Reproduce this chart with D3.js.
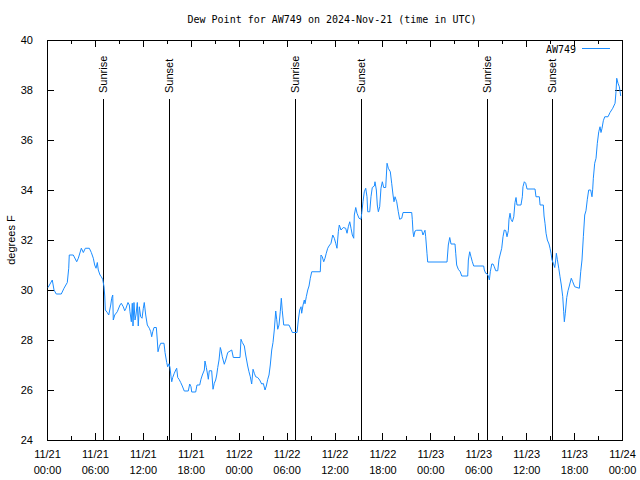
<!DOCTYPE html>
<html><head><meta charset="utf-8">
<script src="https://cdn.jsdelivr.net/npm/d3@7"></script>
<style>
body{margin:0;background:#fff;}
svg{display:block;}
</style></head>
<body>
<svg id="chart" width="640" height="480"></svg>
<script>
// ---- data (hours since 2024-11-21 00:00 UTC, dew point in °F) ----
const hours = [0.13,0.66,0.88,1.16,1.79,2.13,2.54,2.72,2.79,3.29,3.72,3.92,4.30,4.55,4.80,5.30,5.55,5.80,5.97,6.14,6.30,6.42,6.64,6.80,6.97,7.14,7.23,7.30,7.55,7.73,7.98,8.10,8.23,8.30,8.48,8.80,9.14,9.30,9.55,9.73,9.89,10.14,10.31,10.39,10.56,10.68,10.77,10.89,11.02,11.14,11.31,11.43,11.56,11.73,11.90,12.06,12.18,12.36,12.56,12.81,12.99,13.11,13.24,13.40,13.69,13.81,13.90,14.06,14.24,14.65,14.78,14.99,15.11,15.28,15.40,15.53,15.62,15.74,15.94,16.12,16.24,16.37,16.53,16.74,16.94,17.19,17.69,17.87,18.03,18.12,18.62,18.78,19.12,19.28,19.45,19.70,19.78,19.95,20.12,20.20,20.32,20.62,20.79,20.95,21.12,21.25,21.38,21.54,21.70,21.79,21.95,22.20,22.38,22.63,23.13,23.33,24.17,24.29,24.46,24.71,24.88,25.13,25.29,25.46,25.63,25.80,25.96,26.13,26.38,26.63,26.88,27.09,27.30,27.46,27.64,27.80,27.96,28.14,28.30,28.46,28.64,28.76,28.89,29.05,29.21,29.34,29.46,29.64,30.30,30.55,30.72,31.31,31.47,31.64,31.81,31.89,32.06,32.22,32.31,32.47,32.65,32.81,32.97,33.15,34.22,34.31,34.47,34.65,34.81,34.97,35.15,35.31,35.56,35.78,35.98,36.15,36.31,36.48,36.60,36.81,37.10,37.40,37.57,37.73,37.91,38.07,38.23,38.41,38.48,38.66,38.82,39.07,39.32,39.41,39.57,39.73,39.91,40.07,40.16,40.41,40.57,40.73,40.99,41.07,41.24,41.36,41.49,41.66,41.82,41.99,42.16,42.41,42.58,42.74,42.99,43.16,43.33,43.45,43.58,43.79,43.99,44.16,44.42,44.58,45.67,45.74,45.83,45.92,46.08,46.29,46.92,47.08,47.21,47.33,47.42,47.58,47.67,50.09,50.25,50.43,50.59,51.09,51.18,51.30,51.50,51.75,51.93,52.68,52.76,52.93,53.09,53.26,53.43,54.68,54.76,54.93,55.10,55.26,55.39,55.51,55.69,55.85,56.01,56.19,56.44,56.60,56.76,56.94,57.10,57.26,57.44,57.60,57.77,57.85,57.98,58.10,58.27,58.45,58.60,58.73,58.85,59.35,59.52,59.60,59.77,59.94,60.11,61.11,61.23,61.65,61.74,62.15,62.24,62.36,62.49,62.65,62.86,62.99,63.11,63.24,63.40,63.58,63.70,63.78,63.90,64.08,64.24,64.40,64.58,64.70,64.78,64.90,65.08,65.24,65.40,65.65,65.83,66.08,66.66,66.83,66.99,67.16,67.33,67.49,67.66,67.83,68.08,68.24,68.33,68.41,68.58,68.75,68.91,69.09,69.25,69.37,69.50,69.66,69.84,70.25,70.50,70.84,71.13,71.25,71.34,71.50,71.67,71.84];
const dewPoint = [30.1,30.4,30.0,29.84,29.84,30.07,30.3,30.87,31.4,31.4,31.13,31.27,31.67,31.5,31.67,31.67,31.5,31.27,31.0,30.87,31.1,30.8,30.6,30.53,30.43,30.13,29.76,29.2,29.1,29.0,29.4,29.67,29.8,28.8,29.0,29.13,29.4,29.47,29.33,29.17,29.27,29.5,29.4,29.13,28.73,29.47,28.56,29.5,28.8,29.0,29.5,28.56,29.33,28.93,28.87,29.27,29.5,29.0,28.6,28.47,28.33,28.13,28.33,28.5,28.5,28.0,27.53,27.73,27.87,27.87,27.5,27.1,26.93,27.05,26.9,26.53,26.33,26.5,26.67,26.8,26.87,26.5,26.43,26.3,26.16,25.96,25.96,26.24,26.13,25.92,25.92,26.2,26.2,26.43,26.6,26.8,27.16,26.9,26.6,26.43,26.77,26.77,26.03,26.27,26.4,26.6,26.9,27.2,27.7,27.6,27.33,27.03,27.2,27.5,27.6,27.3,27.3,28.03,27.9,27.76,27.4,26.96,26.73,26.53,26.24,26.83,26.67,26.53,26.5,26.4,26.24,26.26,26.0,26.16,26.43,26.6,27.0,27.6,27.9,28.4,29.16,28.83,28.43,28.6,29.13,29.67,29.17,28.6,28.6,28.43,28.3,28.3,28.8,29.2,29.33,29.07,29.4,29.6,29.45,29.73,30.0,30.16,30.47,30.73,30.73,31.4,31.33,31.13,31.27,31.47,31.67,31.76,31.87,32.2,32.07,31.87,31.67,32.33,32.6,32.4,32.5,32.47,32.27,32.53,32.73,32.47,32.2,32.07,33.0,33.3,33.07,32.87,32.83,33.07,33.53,33.93,34.07,33.73,33.13,33.13,33.73,34.1,34.16,34.33,34.0,33.4,33.13,33.33,34.07,34.33,34.1,34.1,35.07,34.87,34.73,34.27,33.8,33.53,33.73,33.53,33.13,32.83,32.87,33.1,33.1,32.83,32.33,32.13,32.36,32.39,32.39,32.2,32.3,32.39,32.13,31.47,31.12,31.12,31.8,32.1,31.84,31.84,31.47,31.0,30.83,30.73,30.56,30.56,31.2,31.53,31.33,31.13,30.96,30.96,30.8,30.67,30.65,30.56,30.4,30.73,31.04,31.04,30.93,30.77,30.77,31.23,31.44,31.67,32.13,32.4,32.38,32.13,32.37,32.83,33.07,32.83,32.73,32.93,33.5,33.7,33.4,33.4,33.73,34.13,34.33,34.27,34.04,34.04,33.73,33.73,33.4,33.4,32.96,32.67,32.27,32.0,31.84,31.67,31.47,31.2,31.07,30.9,31.2,31.47,31.23,30.87,30.53,30.2,29.73,29.13,28.73,29.07,29.7,29.97,30.16,30.47,30.33,30.13,30.07,30.73,31.2,32.13,33.0,33.17,33.63,34.0,34.0,33.73,34.03,34.47,35.07,35.27,35.87,36.33,36.53,36.3,36.47,36.77,36.93,36.93,37.1,37.27,37.47,37.93,38.47,38.27,38.13,37.76];
const sunriseHours = [7.0, 31.05, 55.1];
const sunsetHours = [15.28, 39.32, 63.24];
const xTickHours = [0,6,12,18,24,30,36,42,48,54,60,66,72];
const xTickDates = ["11/21","11/21","11/21","11/21","11/22","11/22","11/22","11/22","11/23","11/23","11/23","11/23","11/24"];
const xTickTimes = ["00:00","06:00","12:00","18:00","00:00","06:00","12:00","18:00","00:00","06:00","12:00","18:00","00:00"];
const yTicks = [24,26,28,30,32,34,36,38,40];
const seriesName = "AW749";
const titleText = "Dew Point for AW749 on 2024-Nov-21 (time in UTC)";
const yLabel = "degrees F";

// ---- layout ----
const L = 47, R = 622, T = 40, B = 440;
const svg = d3.select("#chart");
const x = d3.scaleLinear().domain([0, 72]).range([L, R]);
const y = d3.scaleLinear().domain([24, 40]).range([B, T]);
const mono = "'DejaVu Sans Mono', 'Liberation Mono', monospace";
const sans = "'Liberation Sans', 'DejaVu Sans', sans-serif";
const lineColor = "#1a8cff";

// title
svg.append("text").attr("x", 332).attr("y", 23).attr("text-anchor", "middle")
  .style("font-family", mono).style("font-size", "10px").attr("fill", "#000").text(titleText);

// y label
svg.append("text").attr("transform", "translate(15,240) rotate(-90)").attr("text-anchor", "middle")
  .style("font-family", sans).style("font-size", "11px").attr("fill", "#000").text(yLabel);

// x minor ticks (3h) bottom & top
const minorHours = d3.range(3, 72, 6);
const xMinorB = d3.axisBottom(x).tickValues(minorHours).tickSizeInner(-4).tickSizeOuter(0).tickFormat("");
const xMinorT = d3.axisTop(x).tickValues(minorHours).tickSizeInner(-4).tickSizeOuter(0).tickFormat("");
svg.append("g").attr("transform", `translate(0,${B})`).call(xMinorB);
svg.append("g").attr("transform", `translate(0,${T})`).call(xMinorT);

// x major axis bottom with two-line labels
const gx = svg.append("g").attr("transform", `translate(0,${B})`)
  .call(d3.axisBottom(x).tickValues(xTickHours).tickSizeInner(-7).tickSizeOuter(0).tickPadding(0)
    .tickFormat((d, i) => xTickDates[i]));
gx.selectAll(".tick text").each(function(d, i) {
  const t = d3.select(this);
  t.text(null).attr("y", 0).attr("dy", null);
  t.append("tspan").attr("x", 0).attr("y", 18).text(xTickDates[i]);
  t.append("tspan").attr("x", 0).attr("y", 34).text(xTickTimes[i]);
});
gx.selectAll("text").style("font-family", sans).style("font-size", "11px").attr("fill", "#000");
// x major top
svg.append("g").attr("transform", `translate(0,${T})`)
  .call(d3.axisTop(x).tickValues(xTickHours).tickSizeInner(-7).tickSizeOuter(0).tickFormat(""));

// y axis left
const gy = svg.append("g").attr("transform", `translate(${L},0)`)
  .call(d3.axisLeft(y).tickValues(yTicks).tickSizeInner(-7).tickSizeOuter(0).tickPadding(14).tickFormat(d3.format("d")));
gy.selectAll("text").style("font-family", sans).style("font-size", "11px").attr("fill", "#000");
// y axis right ticks
svg.append("g").attr("transform", `translate(${R},0)`)
  .call(d3.axisRight(y).tickValues(yTicks).tickSizeInner(-7).tickSizeOuter(0).tickFormat(""));

svg.selectAll(".domain").remove();
svg.selectAll(".tick line").attr("stroke", "#000").attr("shape-rendering", "crispEdges");

// border
svg.append("rect").attr("x", L).attr("y", T).attr("width", R - L).attr("height", B - T)
  .attr("fill", "none").attr("stroke", "#000").attr("shape-rendering", "crispEdges");

// sunrise / sunset markers
const events = sunriseHours.map(h => ({h, label: "Sunrise"}))
  .concat(sunsetHours.map(h => ({h, label: "Sunset"})));
const ev = svg.append("g").selectAll("g").data(events).join("g");
ev.append("line").attr("x1", d => Math.round(x(d.h)) + 0.5).attr("x2", d => Math.round(x(d.h)) + 0.5)
  .attr("y1", 99).attr("y2", B).attr("stroke", "#000").attr("stroke-width", 1);
ev.append("text")
  .attr("transform", d => `translate(${Math.round(x(d.h)) + 4},93) rotate(-90)`)
  .attr("text-anchor", "start")
  .style("font-family", sans).style("font-size", "11px").attr("fill", "#000")
  .text(d => d.label);

// data line
const data = hours.map((h, i) => ({h, v: dewPoint[i]}));
svg.append("path").datum(data)
  .attr("d", d3.line().x(d => x(d.h)).y(d => y(d.v)))
  .attr("fill", "none").attr("stroke", lineColor).attr("stroke-width", 1);

// legend
svg.append("text").attr("x", 576).attr("y", 53).attr("text-anchor", "end")
  .style("font-family", mono).style("font-size", "10px").attr("fill", "#000").text(seriesName);
svg.append("line").attr("x1", 582).attr("x2", 610).attr("y1", 48.5).attr("y2", 48.5)
  .attr("stroke", lineColor).attr("stroke-width", 1);
</script>
</body></html>
